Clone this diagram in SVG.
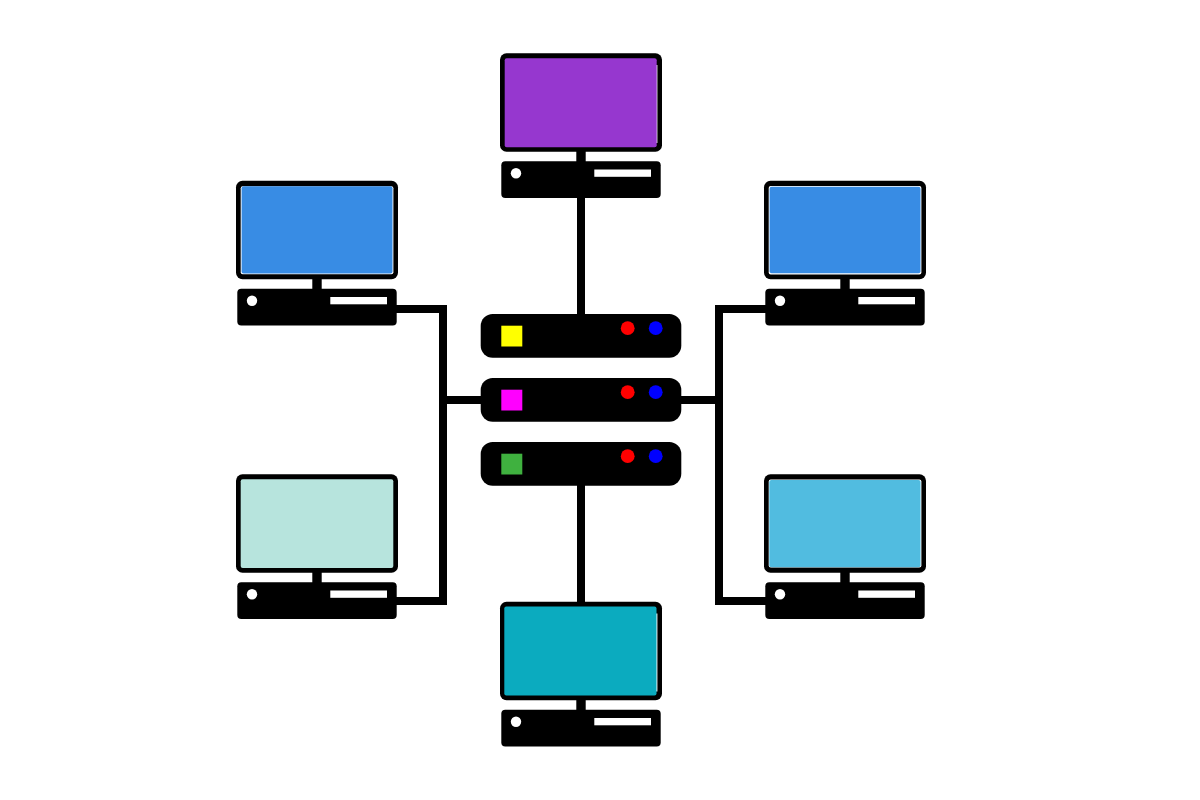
<svg xmlns="http://www.w3.org/2000/svg" width="1200" height="800" viewBox="0 0 1200 800">
<style>
.black{fill:#000}
.white{fill:#fff}
.wire{fill:none;stroke:#000;stroke-width:8;stroke-linejoin:miter}
.red{fill:#f00}
.blue{fill:#00f}
</style>
<defs>
<g id="pc">
<rect class="black" x="500" y="53.3" width="162" height="98.4" rx="6.5"/>
<rect class="black" x="576.3" y="150" width="9.4" height="13"/>
<rect class="black" x="501.3" y="161.2" width="159.4" height="36.8" rx="4"/>
<circle class="white" cx="516" cy="173.2" r="5.2"/>
<rect class="white" x="594.3" y="169.5" width="56.7" height="7.3"/>
</g>
<g id="srv">
<rect class="black" x="480.7" y="314" width="200.6" height="43.8" rx="12"/>
<circle class="red" cx="627.7" cy="328.2" r="6.9"/>
<circle class="blue" cx="655.7" cy="328.2" r="6.9"/>
</g>
</defs>
<g id="connectors">
<path class="wire" d="M581 195V316"/>
<path class="wire" d="M581 484V606"/>
<path class="wire" d="M394 309H443V601H394"/>
<path class="wire" d="M443 400H483"/>
<path class="wire" d="M768 309H719V601H768"/>
<path class="wire" d="M719 400H679"/>
</g>
<g id="pc-top"><use href="#pc"/><rect class="white" x="655" y="65" width="2.4" height="78"/><rect x="504.7" y="58.3" width="152" height="89" rx="2" fill="#9637cf"/></g>
<g id="pc-left-top" transform="translate(-264 127.5)"><use href="#pc"/><rect class="white" x="504.7" y="58.8" width="152.7" height="88" rx="2"/><rect x="505.6" y="58.8" width="150.9" height="87.3" rx="2" fill="#388ce4"/></g>
<g id="pc-right-top" transform="translate(264 127.5)"><use href="#pc"/><rect class="white" x="504.7" y="58.4" width="152.7" height="88.6" rx="2"/><rect x="505.6" y="59.2" width="150.9" height="86.6" rx="2" fill="#388ce4"/></g>
<g id="pc-left-bottom" transform="translate(-264 421)"><use href="#pc"/><rect x="504.7" y="58.3" width="152.6" height="88.8" rx="2" fill="#b7e4dd"/></g>
<g id="pc-right-bottom" transform="translate(264 421)"><use href="#pc"/><rect class="white" x="504.7" y="58.5" width="152.7" height="88" rx="2"/><rect x="505.3" y="59" width="151.2" height="87.3" rx="2" fill="#51bce0"/></g>
<g id="pc-bottom" transform="translate(0 548.5)"><use href="#pc"/><rect class="white" x="655" y="65" width="2.4" height="78"/><rect x="504.3" y="58" width="152.2" height="89" rx="2" fill="#0babbf"/></g>
<g id="server-1"><use href="#srv"/><rect x="501.3" y="325.7" width="21" height="20.8" fill="#ff0"/></g>
<g id="server-2" transform="translate(0 64)"><use href="#srv"/><rect x="501.3" y="325.7" width="21" height="20.8" fill="#f0f"/></g>
<g id="server-3" transform="translate(0 128)"><use href="#srv"/><rect x="501.3" y="325.7" width="21" height="20.8" fill="#3fb13f"/></g>
</svg>
